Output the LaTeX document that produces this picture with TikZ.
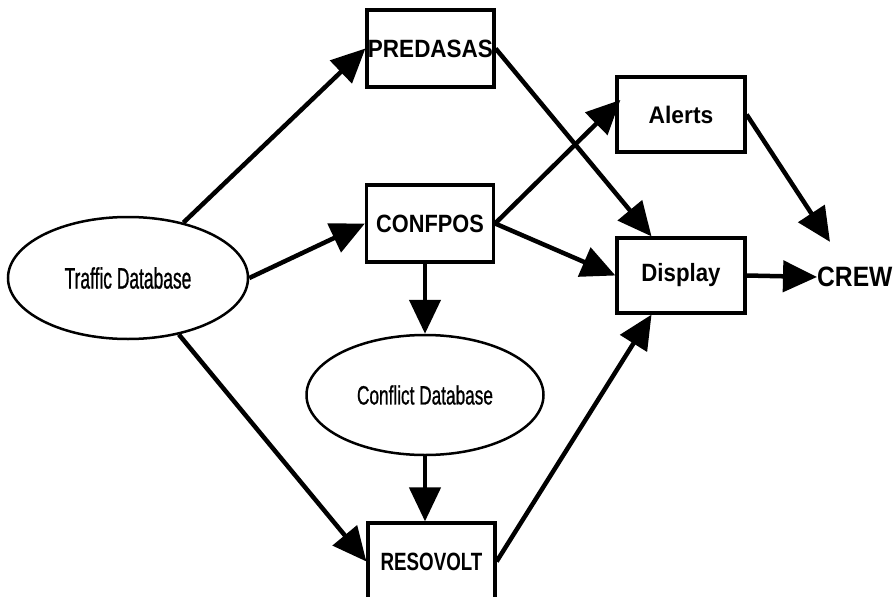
\documentclass[tikz,border=0pt]{standalone}
\usepackage{fontspec}
\setmainfont{Liberation Sans}
\usetikzlibrary{arrows.meta,shapes.geometric,positioning,calc}
\newcommand\lbl[2]{\fontsize{#1}{#1}\selectfont\addfontfeatures{FakeStretch=#2}}

\begin{document}
\begin{tikzpicture}[x=1pt,y=-1pt,
		box/.style={draw,line width=3.2pt,minimum width=127pt,minimum height=77pt,inner sep=0pt},
		db/.style={draw,ellipse,line width=2.5pt,inner sep=0pt},
		flow/.style={line width=4.5pt,-{Triangle[length=34pt,width=31pt]}}]
		\useasboundingbox (0,0) rectangle (895,597);
		% data stores
		\node [db,minimum width=240pt,minimum height=122pt,font=\lbl{29.5}{0.59}\addfontfeatures{FakeBold=0.8}](traffic) at (128,278) {Traffic Database};
		\node [db,minimum width=237pt,minimum height=120pt,font=\lbl{26.5}{0.65}\addfontfeatures{FakeBold=0.8}](conflict) at (425,395) {Conflict Database};
		% processes
		\node [box,font=\bfseries\lbl{25}{0.9}](predasas) at (430.5,48.5) {PREDASAS};
		\node [box,font=\bfseries\lbl{25}{0.87}](confpos) at (430,223.5) {CONFPOS};
		\node [box,font=\bfseries\lbl{25}{0.75}](resovolt) at (431.5,561.5) {RESOVOLT};
		\node [box,minimum width=128pt,minimum height=75pt,font=\bfseries\lbl{24}{0.95}](alerts) at (681,114.5) {Alerts};
		\node [box,minimum width=128pt,minimum height=75pt,font=\bfseries\lbl{25}{0.89}](display) at (681,275.5) {Display};
		\node [anchor=west,inner sep=0pt,font=\bfseries\lbl{28}{0.88}](crew) at (817,277) {CREW};
		% flows
		\draw [flow] (traffic.45) -- (predasas.west);
		\draw [flow] (traffic.east) -- (confpos.west);
		\draw [flow] (traffic.-48) -- (resovolt.west);
		\draw [flow] (predasas.east) -- (display.127);
		\draw [flow] (confpos.east) -- ($(alerts.170)+(5,-3)$);
		\draw [flow] (confpos.east) -- (display.west);
		\draw [flow] (conflict.north |- confpos.south) -- (conflict.north);
		\draw [flow] (conflict.south) -- (conflict.south |- resovolt.north);
		\draw [flow] (resovolt.east) -- (display.233);
		\draw [flow] (alerts.east) -- ($(crew.north west)+(13,-25)$);
		\draw [flow] (display.east) -- (crew.west);
\end{tikzpicture}
\end{document}
